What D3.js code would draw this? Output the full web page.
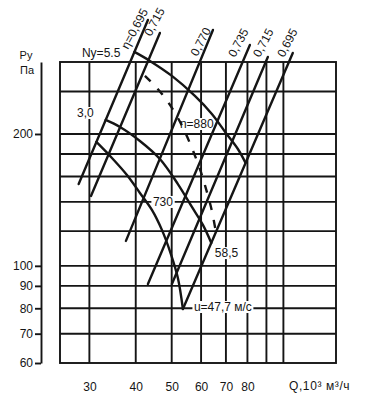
<!DOCTYPE html>
<html><head><meta charset="utf-8">
<script src="https://cdn.jsdelivr.net/npm/d3@7"></script>
<style>
body{margin:0;background:#fff}
svg text{font-family:"Liberation Sans Narrow","Arial Narrow","Liberation Sans",sans-serif;font-size:12px;fill:#151515}
</style></head><body>
<svg id="c" width="365" height="400"></svg>
<script>
// ---- data (Q in 10^3 m3/h, P in Pa) ----
const xGrid=[30,40,50,60,70,80,90,100];
const xTickLabels=[30,40,50,60,70,80];
const yGrid=[70,80,90,100,120,140,160,180,200,250];
const yTickLabels=[60,70,80,90,100,200];

const etaNames=["η=0,695","0,715","0,770","0,735","0,715","0,695"];
const etaQ=[[28.07,43.14],[30.30,46.47],[37.64,64.58],[43.14,81.22],[50.06,90.80],[53.60,106.0]];
const etaP=[[153.7,364.3],[144.4,340.2],[114.0,345.6],[90.88,319.4],[90.88,299.9],[79.69,306.3]];
const etaLabelQ=[38.12,43.95,58.6,74.0,86.4,100.3];
const etaLabelP=[311.1,332.9,299.9,298.3,298.3,298.3];

const curve1Q=[39.67,43.68,50.06,57.74,64.16,69.97,75.39,79.08];
const curve1P=[307.9,293.7,271.4,244.3,222.2,201.1,184.8,171.8];
const curve2Q=[33.19,36.27,41.05,46.47,51.96,56.68,60.68,63.93];
const curve2P=[215.3,207.5,192.8,175.4,153.7,136.3,124.0,112.8];
const curve3Q=[31.33,34.51,37.88,41.05,44.22,47.05,49.75,51.96,53.60];
const curve3P=[191.8,176.3,161.2,146.7,134.2,120.8,106.4,93.8,79.69];
const dashQ=[42.34,45.61,48.84,51.96,54.60,57.39,59.93,62.20,64.16,65.77];
const dashP=[271.4,254.7,236.7,217.6,200.0,181.0,163.8,147.5,133.5,119.5];

const noteText=["Ny=5.5","3,0","n=880","730","58,5","u=47,7 м/с"];
const noteQ=[28.65,27.78,52.61,44.49,65.36,57.39];
const noteP=[299.9,218.7,206.4,137.0,104.7,78.86];
const noteMask=[false,true,true,true,true,true];

// ---- drawing ----
const ink="#151515";
const svg=d3.select("#c");
const x=d3.scaleLog().domain([25,138.6]).range([60,336]);
const y=d3.scaleLog().domain([60,292]).range([363,62]);
const [qMin,qMax]=x.domain(), [pMin,pMax]=y.domain();

const grid=svg.append("g").attr("stroke",ink).attr("stroke-width",1.9);
grid.selectAll("line.v").data(xGrid).join("line").attr("class","v")
  .attr("x1",d=>x(d)).attr("x2",d=>x(d)).attr("y1",y(pMin)).attr("y2",y(pMax));
grid.selectAll("line.h").data(yGrid).join("line").attr("class","h")
  .attr("y1",d=>y(d)).attr("y2",d=>y(d)).attr("x1",x(qMin)).attr("x2",x(qMax));
grid.append("rect").attr("x",x(qMin)).attr("y",y(pMax)).attr("width",x(qMax)-x(qMin))
  .attr("height",y(pMin)-y(pMax)).attr("fill","none");

// y axis
const ya=svg.append("g").attr("transform","translate(41,0)")
  .call(d3.axisLeft(y).tickValues(yTickLabels).tickFormat(d3.format("d")).tickSize(6).tickSizeOuter(0).tickPadding(2));
ya.attr("font-family",null).attr("font-size",null);
ya.selectAll("path,line").attr("stroke",ink).attr("stroke-width",1.9);
ya.selectAll("text").attr("fill",ink);

// x axis labels
const xa=svg.append("g").attr("transform",`translate(0,${y(pMin)})`)
  .call(d3.axisBottom(x).tickValues(xTickLabels).tickFormat(d3.format("d")).tickSize(0).tickPadding(19));
xa.attr("font-family",null).attr("font-size",null);
xa.select(".domain").remove();
xa.selectAll("text").attr("fill",ink);

svg.append("text").attr("x",289).attr("y",390).text("Q,10³ м³/ч").attr("letter-spacing","0.6");
svg.append("text").attr("x",26).attr("y",59).attr("text-anchor","middle").style("font-size","11px").text("Py");
svg.append("text").attr("x",27).attr("y",73.5).attr("text-anchor","middle").style("font-size","11px").text("Па");

// note masks (white behind labels over grid)
const notes=svg.append("g");
const noteG=noteText.map((t,i)=>({t,q:noteQ[i],p:noteP[i],m:noteMask[i]}));
const maskG=svg.append("g");

// eta lines
const marks=svg.append("g").attr("fill","none").attr("stroke",ink).attr("stroke-width",2.4).attr("stroke-linecap","round");
etaQ.forEach((q,i)=>{
  marks.append("line").attr("x1",x(q[0])).attr("y1",y(etaP[i][0])).attr("x2",x(q[1])).attr("y2",y(etaP[i][1]));
});
const line=d3.line().x(d=>x(d[0])).y(d=>y(d[1])).curve(d3.curveCatmullRom.alpha(0.5));
[[curve1Q,curve1P],[curve2Q,curve2P],[curve3Q,curve3P]].forEach(([qs,ps])=>{
  marks.append("path").attr("d",line(qs.map((q,i)=>[q,ps[i]])));
});
marks.append("path").attr("d",line(dashQ.map((q,i)=>[q,dashP[i]])))
  .attr("stroke-dasharray","8,10").attr("stroke-linecap","butt");

// eta labels
etaNames.forEach((t,i)=>{
  const px=x(etaLabelQ[i]), py=y(etaLabelP[i]);
  svg.append("text").attr("transform",`translate(${px},${py}) rotate(-62)`).text(t);
});

// notes
noteG.forEach(n=>{
  const tx=notes.append("text").attr("x",x(n.q)).attr("y",y(n.p)).text(n.t);
  if(n.m){
    const b=tx.node().getBBox();
    maskG.append("rect").attr("x",b.x-1.5).attr("y",b.y+1).attr("width",b.width+3).attr("height",b.height-2).attr("fill","#fff");
  }
});
notes.raise();
</script></body></html>
